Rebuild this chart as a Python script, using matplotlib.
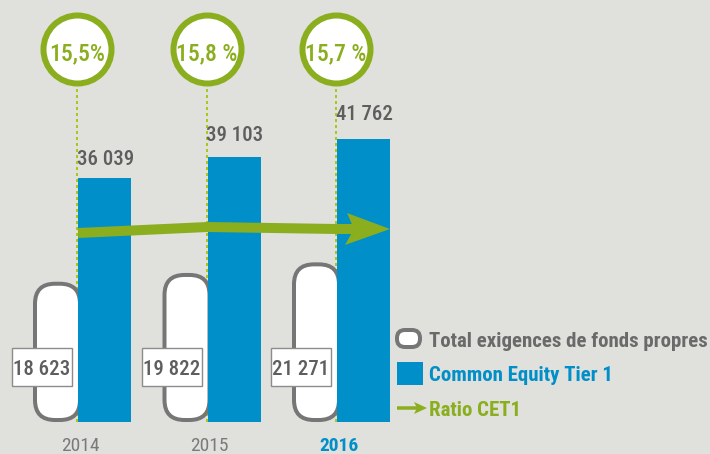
import matplotlib
matplotlib.use('Agg')
import matplotlib.pyplot as plt
import matplotlib.patches as mpatches
import matplotlib.transforms as mtransforms
from matplotlib import font_manager

# data
years = ['2014', '2015', '2016']
cet1 = [36039, 39103, 41762]
total_req = [18623, 19822, 21271]
ratio_cet1 = [15.5, 15.8, 15.7]
cet1_labels = ['36 039', '39 103', '41 762']
req_labels = ['18 623', '19 822', '21 271']
ratio_labels = ['15,5%', '15,8 %', '15,7 %']

BG = '#e0e0dc'
BLUE = '#008fc8'
GREEN = '#8aae1e'
DOT_GREEN = '#a9c81c'
GRAY = '#767676'
TXT = '#5e5e5e'

# pick a narrow font if one is around
fonts = font_manager.fontManager.ttflist
names = {f.name for f in fonts}
FONT, K, STRETCH = ['DejaVu Sans'], 0.8, 'normal'
for cand, k in [('Liberation Sans Narrow', 1.0), ('Roboto Condensed', 1.0),
                ('Open Sans Condensed', 1.0), ('Noto Sans Condensed', 0.95)]:
    if cand in names:
        FONT, K = [cand, 'DejaVu Sans'], k
        break
else:
    if any(f.name == 'DejaVu Sans' and 'condensed' in str(f.stretch) for f in fonts):
        STRETCH, K = 'condensed', 0.88
plt.rcParams['font.family'] = FONT
plt.rcParams['font.stretch'] = STRETCH

PT = 0.72          # points per pixel at dpi 100
STEP = 129.5       # pixels between categories
YPU = 147.6        # value units per pixel
BASE = 32          # pixels from bottom to bar base

fig = plt.figure(figsize=(7.1, 4.54), dpi=100)
fig.patch.set_facecolor(BG)
ax = fig.add_axes([0, 0, 1, 1])
ax.set_facecolor(BG)
ax.set_xlim(-78 / STEP, (710 - 78) / STEP)
ax.set_ylim(-BASE * YPU, (454 - BASE) * YPU)
ax.axis('off')

pos = list(range(len(years)))
bw = 53 / STEP

# dotted guides from the ratio circles down to the base
ax.vlines([p - 1 / STEP for p in pos], 0, 373 * YPU, colors=DOT_GREEN,
          lw=2 * PT, linestyles=(0, (1.5, 1.5)), zorder=1)

# capital requirement pills
for p, v in zip(pos, total_req):
    pill = mpatches.FancyBboxPatch(
        (p - 43 / STEP, 2 * YPU), 45 / STEP, v * 1.08,
        boxstyle='round,pad=0,rounding_size=%f' % (20 / STEP),
        mutation_aspect=YPU * STEP, fc='white', ec=GRAY, lw=4 * PT, zorder=2)
    ax.add_patch(pill)

# CET1 bars
ax.bar(pos, cet1, width=bw, align='edge', color=BLUE, zorder=3)

lab_off = [13, 16, 19]
for p, v, lbl, off in zip(pos, cet1, cet1_labels, lab_off):
    ax.annotate(lbl, xy=(p, v), xytext=(-1 * PT, off * PT), textcoords='offset points',
                ha='left', va='baseline', fontsize=15 * K, color=TXT,
                fontweight='medium', zorder=7)

# value boxes for requirements
for p, lbl in zip(pos, req_labels):
    cx, cy = p - 36 / STEP, 55 * YPU
    tr = fig.dpi_scale_trans + mtransforms.ScaledTranslation(cx, cy, ax.transData)
    ax.add_patch(mpatches.Rectangle((-0.30, -0.19), 0.60, 0.38, transform=tr,
                                    fc='white', ec='#8c8c8c', lw=1, zorder=4))
    ax.text(cx, 47 * YPU, lbl, ha='center', va='baseline', fontsize=15 * K,
            color=TXT, fontweight='medium', zorder=5)

# years
for p, y in zip(pos, years):
    last = y == years[-1]
    ax.annotate(y, xy=(p, 0), xytext=(2 * PT, -29 * PT), textcoords='offset points',
                ha='center', va='baseline', fontsize=14 * K,
                color=BLUE if last else '#7a7a7a',
                fontweight='bold' if last else 'normal')

# ratio circles
cy = 373 * YPU
ax.plot([p - 1 / STEP for p in pos], [cy] * len(pos), ls='none', marker='o',
        ms=68 * PT, mew=6 * PT, mfc='white', mec=GREEN, zorder=6)
for p, lbl in zip(pos, ratio_labels):
    ax.annotate(lbl, xy=(p - 1 / STEP, cy), xytext=(0, -11 * PT), textcoords='offset points',
                ha='center', va='baseline', fontsize=17 * K, color=GREEN,
                fontweight='medium', zorder=7)

# CET1 ratio arrow
ax2 = ax.twinx()
ax2.set_ylim(15.5 - 221 / 20, 15.5 + 233 / 20)
ax2.axis('off')
tip_x = pos[-1] + bw
xs = pos + [tip_x - 36 / STEP]
ys = ratio_cet1 + [ratio_cet1[-1]]
ax2.plot(xs, ys, color=GREEN, lw=10 * PT, solid_capstyle='butt',
         solid_joinstyle='round', zorder=6)
tr = fig.dpi_scale_trans + mtransforms.ScaledTranslation(tip_x, ratio_cet1[-1], ax2.transData)
head = [(0, 0), (-43, 16), (-36, 0), (-45, -16)]
ax2.add_patch(mpatches.Polygon([(a / 100, b / 100) for a, b in head], closed=True,
                               transform=tr, fc=GREEN, ec='none', zorder=7))

# legend in pixel coordinates
ov = fig.add_axes([0, 0, 1, 1])
ov.set_xlim(0, 710)
ov.set_ylim(454, 0)
ov.patch.set_alpha(0)
ov.axis('off')
ov.add_patch(mpatches.FancyBboxPatch((397, 330), 23, 17, boxstyle='round,pad=0,rounding_size=8',
                                     fc='white', ec=GRAY, lw=4 * PT))
ov.add_patch(mpatches.Rectangle((397, 362), 26, 23, fc=BLUE, ec='none'))
ov.plot([397, 419], [408, 408], color=GREEN, lw=3.5 * PT, solid_capstyle='butt')
ov.add_patch(mpatches.Polygon([(427, 408), (414, 402), (417, 408), (414, 414)],
                              closed=True, fc=GREEN, ec='none'))
ov.text(429, 347, 'Total exigences de fonds propres', fontsize=15 * K,
        fontweight='bold', color='#6a6a6a', va='baseline')
ov.text(429, 381, 'Common Equity Tier 1', fontsize=15 * K,
        fontweight='bold', color=BLUE, va='baseline')
ov.text(429, 416, 'Ratio CET1', fontsize=15 * K,
        fontweight='bold', color=GREEN, va='baseline')

fig.savefig('out.png', dpi=100, facecolor=BG)
